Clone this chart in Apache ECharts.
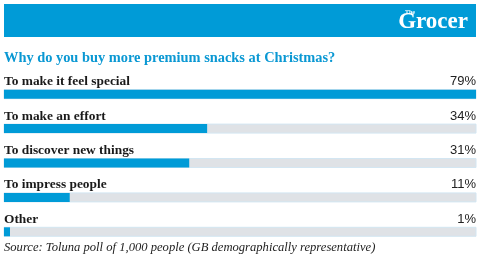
<!DOCTYPE html>
<html>
<head>
<meta charset="utf-8">
<script src="https://cdn.jsdelivr.net/npm/echarts@6/dist/echarts.min.js"></script>
<style>
  html, body { margin: 0; padding: 0; background: #fff; }
  #main { width: 480px; height: 267px; }
</style>
</head>
<body>
<div id="main"></div>
<script>
    const categories = ['To make it feel special', 'To make an effort', 'To discover new things', 'To impress people', 'Other'];
    const values = [79, 34, 31, 11, 1];
    const valueLabels = ['79%', '34%', '31%', '11%', '1%'];

    const blue = '#009bd7';

    const option = {
        backgroundColor: '#fff',
        animation: false,
        title: {
            text: 'Why do you buy more premium snacks at Christmas?',
            left: 4,
            top: 51,
            padding: 0,
            textStyle: {
                fontFamily: 'Liberation Serif',
                fontWeight: 'bold',
                fontSize: 14.4,
                color: '#0a98d3'
            }
        },
        graphic: [
            {
                type: 'rect',
                shape: { x: 4, y: 4, width: 472, height: 33 },
                style: { fill: blue }
            },
            {
                type: 'text',
                style: {
                    text: 'Grocer',
                    x: 468, y: 34,
                    textAlign: 'right',
                    textVerticalAlign: 'bottom',
                    fill: '#fff',
                    font: 'bold 23px "Liberation Serif"'
                }
            },
            {
                type: 'text',
                style: {
                    text: 'The',
                    x: 410, y: 12,
                    textAlign: 'center',
                    textVerticalAlign: 'middle',
                    fill: '#fff',
                    font: 'bold 6px "Liberation Serif"'
                }
            },
            {
                type: 'text',
                style: {
                    text: 'Source: Toluna poll of 1,000 people (GB demographically representative)',
                    x: 4, y: 248,
                    textVerticalAlign: 'middle',
                    fill: '#222',
                    font: 'italic 12.6px "Liberation Serif"'
                }
            }
        ],
        grid: { left: 4, right: 4, top: 77, height: 172 },
        xAxis: {
            type: 'value',
            min: 0,
            max: 'dataMax',
            show: false
        },
        yAxis: [
            {
                type: 'category',
                data: categories,
                inverse: true,
                axisLine: { show: false },
                axisTick: { show: false },
                splitLine: { show: false },
                axisLabel: {
                    inside: true,
                    margin: 0,
                    align: 'left',
                    verticalAlign: 'bottom',
                    padding: [0, 0, 6, 0],
                    fontFamily: 'Liberation Serif',
                    fontWeight: 'bold',
                    fontSize: 13.4,
                    color: '#1a1a1a'
                }
            },
            {
                type: 'category',
                data: valueLabels,
                inverse: true,
                position: 'right',
                axisLine: { show: false },
                axisTick: { show: false },
                splitLine: { show: false },
                axisLabel: {
                    inside: true,
                    margin: 0,
                    align: 'right',
                    verticalAlign: 'bottom',
                    padding: [0, 0, 6, 0],
                    fontFamily: 'Liberation Sans',
                    fontSize: 13,
                    color: '#222'
                }
            }
        ],
        series: [
            {
                type: 'bar',
                data: values,
                barWidth: 9,
                itemStyle: { color: blue },
                showBackground: true,
                backgroundStyle: {
                    color: '#dfe2e6',
                    borderColor: '#d3e6f2',
                    borderWidth: 1
                }
            }
        ]
    };

    const myChart = echarts.init(document.getElementById('main'));
    myChart.setOption(option);
</script>
</body>
</html>
